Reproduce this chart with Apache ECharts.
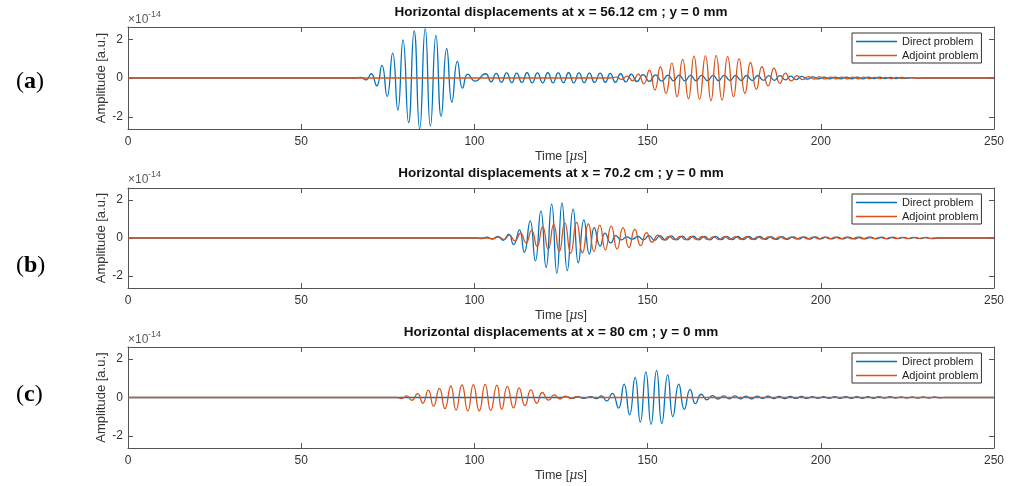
<!DOCTYPE html>
<html><head><meta charset="utf-8">
<script src="https://cdn.jsdelivr.net/npm/echarts@6/dist/echarts.min.js"></script>
<style>html,body{margin:0;padding:0;background:#fff}#c{width:1015px;height:486px}</style>
</head><body><div id="c"></div>
<script>
// ---------- data (amplitudes in units of 1e-14, time in microseconds) ----------
const seriesNames = ['Direct problem', 'Adjoint problem'];
const panelTitles = [
  'Horizontal displacements at x = 56.12 cm ; y = 0 mm',
  'Horizontal displacements at x = 70.2 cm ; y = 0 mm',
  'Horizontal displacements at x = 80 cm ; y = 0 mm'
];
const panelLetters = ['a', 'b', 'c'];
const xTicks = [0, 50, 100, 150, 200, 250];
const yTicks = [-2, 0, 2];
const yLimit = 2.63;
const xRange = [0, 250];

const aDirect = [[0,0],[66,0],[67.2,0.03],[68.7,-0.1],[70.2,0.22],[71.8,-0.4],[73.3,0.65],[74.8,-0.95],[76.4,1.28],[77.9,-1.65],[79.4,1.97],[81.0,-2.3],[82.6,2.43],[84.2,-2.62],[85.8,2.55],[87.3,-2.48],[88.9,2.2],[90.4,-1.98],[92.0,1.52],[93.5,-1.25],[95.1,0.86],[96.6,-0.52],[98.1,0.2],[100.2,-0.16],
  [103.2,0.22],[104.8,-0.2],[106.3,0.24],[107.8,-0.22],[109.3,0.26],[110.8,-0.24],[112.2,0.25],[113.7,-0.23],[115.2,0.27],[116.7,-0.25],[118.2,0.26],[119.7,-0.25],[121.2,0.27],[122.7,-0.25],[124.2,0.26],[125.7,-0.24],[127.2,0.27],[128.7,-0.25],[130.2,0.26],[131.7,-0.24],[133.2,0.25],[134.7,-0.23],[136.3,0.25],[137.8,-0.22],[139.2,0.24],[140.7,-0.22],[142.2,0.22],[143.7,-0.2],[145.3,0.2],[146.9,-0.18],
  [148.7,0.17],[150.5,-0.17],[152.3,0.16],[154.1,-0.16],[155.9,0.15],[157.5,-0.15],[159.1,0.15],[160.8,-0.15],[162.4,0.14],[164.0,-0.14],[165.6,0.14],[167.3,-0.14],[168.9,0.14],[170.5,-0.14],[172.1,0.14],[173.8,-0.13],[175.4,0.13],[177.0,-0.13],[178.6,0.13],[180.2,-0.13],[181.8,0.13],[183.4,-0.12],[185.0,0.12],[186.6,-0.12],[188.2,0.12],[189.8,-0.1],[191.3,0.1],[192.9,-0.08],[194.5,0.08],[196.1,-0.06],
  [197.7,0.06],[199.3,-0.05],[200.9,0.05],[202.5,-0.05],[204.1,0.05],[205.7,-0.04],[207.3,0.05],[208.9,-0.04],[210.5,0.04],[212.1,-0.04],[213.7,0.04],[215.3,-0.03],[216.9,0.04],[218.5,-0.03],[220.1,0.03],[221.7,-0.03],[223.3,0.03],[224.9,-0.02],[226.5,0.02],[228.1,-0.02],[230,0],[250,0]];

const aAdjoint = [[0,0],[139.3,0],[140.9,0.05],[142.5,-0.07],[144.1,0.1],[145.7,-0.15],[147.3,0.2],[148.9,-0.3],[150.5,0.4],[152.1,-0.62],[153.7,0.58],[155.3,-0.79],[157.0,0.77],[158.5,-0.97],[160.1,0.96],[161.8,-1.07],[163.4,1.13],[165.0,-1.1],[166.7,1.14],[168.3,-1.17],[169.8,1.15],[171.5,-1.14],[173.1,1.1],[174.8,-0.97],[176.4,0.99],[178.1,-0.79],[179.7,0.8],[181.4,-0.59],[183.0,0.58],[184.8,-0.41],[186.5,0.51],[188.2,-0.28],[189.8,0.25],[191.5,-0.15],[193.1,0.12],[194.8,-0.08],
  [196.4,0.07],[198.0,-0.06],[199.6,0.06],[201.2,-0.05],[202.8,0.05],[204.4,-0.05],[206.0,0.05],[207.6,-0.04],[209.2,0.04],[210.8,-0.04],[212.4,0.04],[214.0,-0.03],[215.6,0.03],[217.2,-0.03],[218.8,0.03],[220.4,-0.03],[222.0,0.03],[223.6,-0.02],[225.2,0.02],[227,0],[250,0]];

const bDirect = [[0,0],[100.5,0],[102.1,-0.03],[103.6,0.04],[105.2,-0.06],[106.7,0.08],[108.3,-0.12],[109.9,0.2],[111.3,-0.35],[113.0,0.43],[114.4,-0.75],[116.1,0.9],[117.6,-1.2],[119.2,1.43],[120.7,-1.55],[122.3,1.78],[123.8,-1.86],[125.3,1.84],[126.8,-1.72],[128.5,1.52],[130.0,-1.3],[131.6,0.95],[133.2,-0.85],[134.6,0.55],[136.3,-0.43],[137.7,0.26],[139.4,-0.26],[140.8,0.12],[142.4,-0.1],[144.0,0.06],[145.6,-0.06],[147.2,0.08],[148.8,-0.1],[150.4,0.12],[152.0,-0.12],[153.6,0.12],[155.2,-0.11],[156.8,0.11],[158.4,-0.1],[160.0,0.1],
  [161.6,-0.1],[163.2,0.1],[164.8,-0.1],[166.4,0.09],[168.0,-0.1],[169.6,0.09],[171.2,-0.09],[172.8,0.09],[174.4,-0.09],[176.0,0.08],[177.6,-0.08],[179.2,0.08],[180.8,-0.08],[182.4,0.08],[184.0,-0.07],[185.6,0.07],[187.2,-0.07],[188.8,0.07],[190.4,-0.07],[192.0,0.06],[193.6,-0.06],[195.2,0.06],[196.8,-0.06],[198.4,0.06],[200.0,-0.05],[201.6,0.05],[203.2,-0.05],[204.8,0.05],[206.4,-0.05],[208.0,0.05],[209.6,-0.05],[211.2,0.04],[212.8,-0.04],[214.4,0.04],[216.0,-0.04],[217.6,0.04],[219.2,-0.04],[220.8,0.04],[222.4,-0.03],[224.0,0.03],[225.6,-0.03],[227.2,0.03],[228.8,-0.03],[230.4,0.03],[232.0,-0.03],[234,0],[250,0]];

const bAdjoint = [[0,0],[103.8,0],[105.4,-0.03],[107.0,0.06],[108.5,-0.08],[110.1,0.15],[111.7,-0.15],[113.3,0.25],[114.9,-0.25],[116.5,0.4],[118.1,-0.45],[119.7,0.6],[121.3,-0.6],[122.9,0.72],[124.5,-0.72],[126.1,0.8],[127.8,-0.8],[129.5,0.82],[131.2,-0.78],[132.9,0.75],[134.5,-0.7],[136.2,0.68],[137.8,-0.62],[139.5,0.62],[141.2,-0.58],[142.9,0.55],[144.6,-0.5],[146.3,0.45],[148.0,-0.4],[149.7,0.28],[151.3,-0.22],[153.0,0.15],[154.6,-0.1],[156.2,0.08],
  [157.8,-0.09],[159.4,0.08],[161.0,-0.09],[162.6,0.08],[164.2,-0.08],[165.8,0.08],[167.4,-0.08],[169.0,0.07],[170.6,-0.08],[172.2,0.07],[173.8,-0.07],[175.4,0.07],[177.0,-0.07],[178.6,0.07],[180.2,-0.07],[181.8,0.06],[183.4,-0.06],[185.0,0.06],[186.6,-0.06],[188.2,0.06],[189.8,-0.06],[191.4,0.05],[193.0,-0.05],[194.6,0.05],[196.2,-0.05],[197.8,0.05],[199.4,-0.05],[201.0,0.05],[202.6,-0.04],[204.2,0.04],[205.8,-0.04],[207.4,0.04],[209.0,-0.04],[210.6,0.04],[212.2,-0.04],[213.8,0.04],[215.4,-0.03],[217.0,0.03],[218.6,-0.03],[220.2,0.03],[221.8,-0.03],[223.4,0.03],[225.0,-0.03],[226.6,0.03],[228.2,-0.02],[229.8,0.02],[231.4,-0.02],[233,0],[250,0]];

const cDirect = [[0,0],[125,0],[126.8,0.03],[128.4,-0.04],[130.0,0.04],[131.6,-0.05],[133.6,0.05],[135.2,-0.06],[136.7,0.08],[138.2,-0.18],[139.8,0.22],[141.6,-0.55],[143.2,0.7],[144.8,-0.9],[146.4,1.05],[147.9,-1.28],[149.5,1.33],[151.0,-1.4],[152.6,1.41],[154.1,-1.36],[155.8,1.18],[157.3,-1.0],[159.0,0.7],[160.6,-0.62],[162.3,0.42],[163.8,-0.32],[165.5,0.17],[167.1,-0.12],[168.8,0.1],[170.3,-0.08],[172.0,0.08],[173.6,-0.07],[175.2,0.08],[176.8,-0.07],
  [178.4,0.07],[180.0,-0.07],[181.6,0.07],[183.2,-0.06],[184.8,0.07],[186.4,-0.06],[188.0,0.06],[189.6,-0.06],[191.2,0.06],[192.8,-0.05],[194.4,0.06],[196.0,-0.05],[197.6,0.05],[199.2,-0.05],[200.8,0.05],[202.4,-0.05],[204.0,0.05],[205.6,-0.04],[207.2,0.05],[208.8,-0.04],[210.4,0.04],[212.0,-0.04],[213.6,0.04],[215.2,-0.04],[216.8,0.04],[218.4,-0.03],[220.0,0.04],[221.6,-0.03],[223.2,0.03],[224.8,-0.03],[226.4,0.03],[228.0,-0.03],[229.6,0.03],[231.2,-0.03],[232.8,0.03],[234.4,-0.02],[236,0],[250,0]];

const cAdjoint = [[0,0],[77.5,0],[79.0,-0.05],[80.5,0.08],[81.9,-0.15],[83.6,0.2],[85.1,-0.3],[86.7,0.38],[88.2,-0.45],[89.9,0.48],[91.5,-0.58],[93.2,0.6],[94.7,-0.66],[96.4,0.65],[98.1,-0.7],[99.7,0.67],[101.4,-0.7],[103.1,0.68],[104.7,-0.68],[106.5,0.64],[107.9,-0.62],[109.5,0.58],[111.3,-0.54],[112.9,0.5],[114.6,-0.42],[116.3,0.4],[118.0,-0.3],[119.6,0.26],[121.4,-0.14],[123.0,0.14],[124.7,-0.08],[126.2,0.07],[127.8,-0.05],[129.4,0.04],[131,0],[250,0]];

const panelData = [[aDirect, aAdjoint], [bDirect, bAdjoint], [cDirect, cAdjoint]];

// ---------- layout / style ----------
const colors = ['#0072BD', '#D95319'];
const gridTops = [27, 188, 347];
const gridHeights = [102, 100, 101];
const gridLeft = 128, gridRight = 21;
const axisColor = '#555';
const textColor = '#333';
const fontFam = '"Liberation Sans", Arial, Helvetica, sans-serif';

const grids = [], xAxes = [], yAxes = [], series = [], titles = [], legends = [], graphics = [];
const letterY = [84, 268, 397];
const exponentY = [21, 181, 341];

for (let p = 0; p < 3; p++) {
  grids.push({left: gridLeft, right: gridRight, top: gridTops[p], height: gridHeights[p], containLabel: false});
  const tickCommon = {show: true, inside: true, length: 5, lineStyle: {color: axisColor, width: 1}};
  xAxes.push({
    type: 'value', gridIndex: p, min: xRange[0], max: xRange[1], interval: 50, position: 'bottom',
    axisLine: {show: true, onZero: false, lineStyle: {color: axisColor, width: 1}},
    axisTick: tickCommon, splitLine: {show: false},
    axisLabel: {show: true, margin: 7, color: textColor, fontSize: 12, fontFamily: fontFam},
    name: '{n|Time [}{m|μ}{n|s]}', nameLocation: 'middle', nameGap: 21, nameMoveOverlap: false,
    nameTextStyle: {rich: {n: {fontSize: 12.5, color: textColor, fontFamily: fontFam}, m: {fontSize: 12.5, color: textColor, fontStyle: 'italic', fontFamily: 'DejaVu Serif, serif'}}}
  });
  xAxes.push({
    type: 'value', gridIndex: p, min: xRange[0], max: xRange[1], interval: 50, position: 'top',
    axisLine: {show: true, onZero: false, lineStyle: {color: axisColor, width: 1}},
    axisTick: tickCommon, axisLabel: {show: false}, splitLine: {show: false}
  });
  yAxes.push({
    type: 'value', gridIndex: p, min: -yLimit, max: yLimit, position: 'left',
    axisLine: {show: true, onZero: false, lineStyle: {color: axisColor, width: 1}},
    axisTick: Object.assign({customValues: yTicks}, tickCommon), splitLine: {show: false},
    axisLabel: {show: true, customValues: yTicks, margin: 5, color: textColor, fontSize: 12, fontFamily: fontFam},
    name: 'Amplitude [a.u.]', nameLocation: 'middle', nameGap: 20, nameMoveOverlap: false,
    nameTextStyle: {fontSize: 13, color: textColor, fontFamily: fontFam}
  });
  yAxes.push({
    type: 'value', gridIndex: p, min: -yLimit, max: yLimit, position: 'right',
    axisLine: {show: true, onZero: false, lineStyle: {color: axisColor, width: 1}},
    axisTick: Object.assign({customValues: yTicks}, tickCommon), axisLabel: {show: false}, splitLine: {show: false}
  });
  for (let s = 0; s < 2; s++) {
    series.push({
      type: 'line', name: seriesNames[s], xAxisIndex: 2 * p, yAxisIndex: 2 * p,
      data: panelData[p][s], symbol: 'none', showSymbol: false, smooth: 0.55,
      lineStyle: {color: colors[s], width: 1.3}, itemStyle: {color: colors[s]}, z: 2 + s, silent: true
    });
  }
  titles.push({
    text: panelTitles[p], left: gridLeft + (1015 - gridLeft - gridRight) / 2, textAlign: 'center',
    top: gridTops[p] - 22, padding: 0,
    textStyle: {fontSize: 13.5, fontWeight: 'bold', color: '#111', fontFamily: fontFam}
  });
  legends.push({
    data: seriesNames, orient: 'vertical', left: 852, top: gridTops[p] + 6,
    icon: 'rect', itemWidth: 41, itemHeight: 1.4, itemGap: 3, padding: [3, 3, 2, 4],
    borderColor: '#333', borderWidth: 1, backgroundColor: '#fff', selectedMode: false,
    textStyle: {fontSize: 11, color: '#222', fontFamily: fontFam}
  });
  graphics.push({type: 'text', left: 128, top: exponentY[p] - 7, z: 10,
    style: {text: '×10', fill: '#555', font: '12px ' + fontFam}});
  graphics.push({type: 'text', left: 148, top: exponentY[p] - 11, z: 10,
    style: {text: '-14', fill: '#555', font: '9px ' + fontFam}});
  graphics.push({type: 'text', left: 16, top: letterY[p] - 14, z: 10,
    style: {text: '({b|' + panelLetters[p] + '})', fill: '#000', font: '24px "Liberation Serif", serif',
      rich: {b: {fontWeight: 'bold', fontSize: 24, fontFamily: '"Liberation Serif", serif', fill: '#000'}}}});
}

const chart = echarts.init(document.getElementById('c'), null, {renderer: 'canvas'});
chart.setOption({
  animation: false, backgroundColor: '#fff',
  title: titles, legend: legends, grid: grids, xAxis: xAxes, yAxis: yAxes, series: series, graphic: graphics
});
</script></body></html>
